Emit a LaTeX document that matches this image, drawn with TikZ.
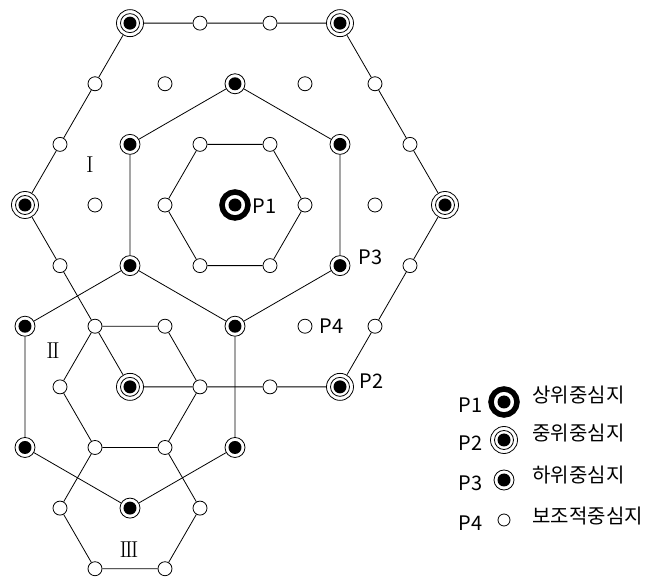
\documentclass[tikz,border=0pt]{standalone}
\usepackage{fontspec}
\newfontfamily\korfont{Noto Sans CJK KR}
\usetikzlibrary{positioning}

\tikzset{
  p4dot/.style={circle, draw, fill=white, inner sep=0pt, minimum size=14pt},
  p3dot/.style={circle, draw, fill=white, inner sep=0pt, minimum size=20pt,
    path picture={\fill[black] (path picture bounding box.center) circle (6.5pt);}},
  p2dot/.style={circle, draw, fill=white, inner sep=0pt, minimum size=27pt,
    path picture={\draw (path picture bounding box.center) circle (9.5pt);
      \fill[black] (path picture bounding box.center) circle (6.5pt);}},
  p1dot/.style={circle, draw, line width=5.5pt, fill=white, inner sep=0pt,
    minimum size=26pt,
    path picture={\fill[black] (path picture bounding box.center) circle (6.5pt);}},
  plabel/.style={font=\korfont\fontsize{20}{22}\selectfont, inner sep=0pt, anchor=west},
  region/.style={font=\fontsize{23}{25}\selectfont, inner sep=0pt}
}

\begin{document}
\begin{tikzpicture}[x={(70pt,0pt)}, y={(35pt,60.62pt)}, line width=0.8pt]
  \useasboundingbox (-235pt,205pt) rectangle (413pt,-375pt);

  % centres
  \node[p1dot] (n00) at (0,0) {};
  \foreach \i/\j in {3/0,0/3,-3/3,-3/0,0/-3,3/-3}
    \node[p2dot] (n\i\j) at (\i,\j) {};
  \foreach \i/\j in {1/1,-1/2,-2/1,-1/-1,1/-2,2/-1,-2/-2,-1/-4,1/-5,2/-4}
    \node[p3dot] (n\i\j) at (\i,\j) {};
  \foreach \i/\j in {1/0,0/1,-1/1,-1/0,0/-1,1/-1,
      2/0,0/2,-2/2,-2/0,0/-2,2/-2,
      -1/3,-2/3,-3/2,-3/1,-2/-1,-1/-2,1/-3,2/-3,3/-2,3/-1,2/1,1/2,
      -1/-3,0/-4,1/-4,2/-5,0/-5,1/-6,2/-6}
    \node[p4dot] (n\i\j) at (\i,\j) {};

  % hexagons
  \draw (n10) -- (n01) -- (n-11) -- (n-10) -- (n0-1) -- (n1-1) -- (n10);
  \draw (n11) -- (n-12) -- (n-21) -- (n-1-1) -- (n1-2) -- (n2-1) -- (n11);
  \draw (n30) -- (n21) -- (n12) -- (n03) -- (n-13) -- (n-23) -- (n-33)
    -- (n-32) -- (n-31) -- (n-30) -- (n-2-1) -- (n-1-2) -- (n0-3)
    -- (n1-3) -- (n2-3) -- (n3-3) -- (n3-2) -- (n3-1) -- (n30);
  \draw (n1-3) -- (n0-2) -- (n-1-2) -- (n-1-3) -- (n0-4) -- (n1-4) -- (n1-3);
  \draw (n1-2) -- (n2-4) -- (n1-5) -- (n-1-4) -- (n-2-2) -- (n-1-1);
  \draw (n1-4) -- (n2-5) -- (n2-6) -- (n1-6) -- (n0-5) -- (n0-4);

  \node[plabel] (l1) at (17pt,-1pt) {P1};
  \node[plabel] (l3) at (123pt,-52pt) {P3};
  \node[plabel] (l4) at (84pt,-121pt) {P4};
  \node[plabel] (l2) at (124pt,-176pt) {P2};

  \node[region] (r1) at (-145pt,40pt) {I};
  \node[region] (r2) at (-182pt,-146pt) {I\kern-2ptI};
  \node[region] (r3) at (-106pt,-345pt) {I\kern-2ptI\kern-2ptI};

  % legend
  \node[p1dot] (k1) at (269pt,-197pt) {};
  \node[p2dot] (k2) at (269pt,-235pt) {};
  \node[p3dot] (k3) at (269pt,-275pt) {};
  \node[p4dot, minimum size=12pt] (k4) at (269pt,-315pt) {};
  \node[plabel] (kp1) at (223pt,-200pt) {P1};
  \node[plabel] (kp2) at (223pt,-238pt) {P2};
  \node[plabel] (kp3) at (223pt,-278pt) {P3};
  \node[plabel] (kp4) at (223pt,-318pt) {P4};
  \node[plabel] (kt1) at (297pt,-190pt) {상위중심지};
  \node[plabel] (kt2) at (297pt,-228pt) {중위중심지};
  \node[plabel] (kt3) at (297pt,-270pt) {하위중심지};
  \node[plabel] (kt4) at (297pt,-311pt) {보조적중심지};
\end{tikzpicture}
\end{document}
